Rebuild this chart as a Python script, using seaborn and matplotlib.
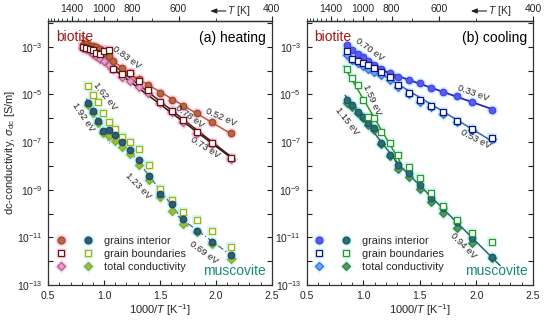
import numpy as np
import pandas as pd
import matplotlib
matplotlib.use("Agg")
import matplotlib.pyplot as plt
import seaborn as sns
from matplotlib.ticker import FixedLocator, FuncFormatter, NullLocator, MultipleLocator
from matplotlib.legend_handler import HandlerTuple
from matplotlib.lines import Line2D

sns.set_theme(style="ticks")
plt.rcParams['font.family'] = ['Liberation Sans', 'DejaVu Sans']
plt.rcParams['mathtext.fontset'] = 'custom'
plt.rcParams['mathtext.rm'] = 'Liberation Sans'
plt.rcParams['mathtext.it'] = 'Liberation Sans:italic'
plt.rcParams['mathtext.bf'] = 'Liberation Sans:bold'

# ---------------- data (x = 1000/T [1/K], values = log10 sigma [S/m]) -------------
# (a) heating
heat_bio_x = [0.81, 0.84, 0.87, 0.90, 0.93, 0.96, 1.00, 1.04, 1.08, 1.157, 1.23, 1.31,
              1.395, 1.50, 1.605, 1.705, 1.83, 1.965, 2.14]
heat_bio_gi = [-2.92, -2.88, -2.95, -2.98, -3.00, -3.10, -3.25, -3.40, -3.60, -3.91, -4.10, -4.35,
               -4.62, -4.94, -5.24, -5.50, -5.80, -6.16, -6.62]
heat_bio_gb = [-3.00, -3.05, -3.10, -3.15, -3.25, -3.30, -3.20, -3.14, -3.95, -4.15, -4.10, -4.45,
               -4.80, -5.30, -5.69, -6.09, -6.58, -7.04, -7.66]
heat_bio_tc = [-3.05, -3.10, -3.20, -3.30, -3.40, -3.50, -3.60, -3.75, -3.95, -4.26, -4.45, -4.70,
               -4.96, -5.35, -5.75, -6.15, -6.60, -7.08, -7.72]

heat_mus_x = [0.858, 0.90, 0.948, 0.99, 1.04, 1.10, 1.157, 1.23, 1.31, 1.40, 1.50, 1.605,
              1.705, 1.83, 1.965, 2.14]
heat_mus_gi = [-5.36, -5.69, -6.12, -6.54, -6.51, -6.70, -7.00, -7.35, -7.77, -8.44, -9.18, -9.59,
               -10.23, -10.72, -11.21, -11.73]
heat_mus_gb = [-4.65, -5.03, -5.32, -5.80, -6.16, -6.44, -6.79, -7.00, -7.28, -7.98, -8.96, -9.45,
               -9.95, -10.27, -10.72, -11.39]
heat_mus_tc = [-5.45, -5.80, -6.20, -6.60, -6.75, -6.95, -7.21, -7.52, -7.95, -8.60, -9.32, -9.88,
               -10.44, -10.79, -11.28, -11.91]

# (b) cooling
cool_x = [0.854, 0.90, 0.951, 1.0, 1.045, 1.098, 1.157, 1.237, 1.31, 1.40, 1.50, 1.60,
          1.704, 1.827, 1.965, 2.135]
cool_bio_gi = [-2.93, -3.12, -3.30, -3.42, -3.58, -3.75, -3.92, -4.12, -4.25, -4.40, -4.54, -4.72,
               -4.89, -5.06, -5.31, -5.66]
cool_bio_gb = [-3.20, -3.50, -3.62, -3.70, -3.78, -3.88, -4.05, -4.25, -4.60, -4.95, -5.22, -5.50,
               -5.75, -6.10, -6.45, -6.85]
cool_bio_tc = [-3.35, -3.55, -3.70, -3.82, -3.92, -4.05, -4.20, -4.38, -4.70, -5.00, -5.30, -5.55,
               -5.82, -6.15, -6.48, -6.88]
cool_mus_gi = [-5.24, -5.45, -5.73, -5.94, -6.22, -6.42, -7.05, -7.55, -7.96, -8.31, -8.80, -9.36,
               -9.78, -10.34, -11.04, -11.84]
cool_mus_gb = [-3.95, -4.30, -4.60, -5.24, -5.94, -6.00, -6.57, -7.06, -7.55, -8.04, -8.52, -9.15,
               -9.67, -10.27, -10.80, -11.18]
cool_mus_tc = [-5.35, -5.55, -5.80, -6.00, -6.30, -6.50, -7.10, -7.60, -8.14, -8.48, -8.97, -9.50,
               -9.99, -10.62, -11.22, -11.88]

legend_labels = ["grains interior", "grain boundaries", "total conductivity"]
top_major_T = [1400, 1000, 800, 600, 400]
top_minor_T = [2000, 1900, 1800, 1700, 1600, 1500, 1300, 1200, 1100, 900, 700, 500]

# ---------------- styles ----------------
S_CIRC, S_SQ, S_DIA = 22, 18, 16
HALO_F = 3.0
HALO_A = 0.35

fig = plt.figure(figsize=(5.5, 3.22), dpi=100)
axL = fig.add_axes([0.0878, 0.1149, 0.4062, 0.8214])
axR = fig.add_axes([0.5576, 0.1149, 0.4115, 0.8214])


def draw(ax, x, logy, marker, face, edge, halo, size, z=5, lw=0.9):
    df = pd.DataFrame({"x": np.asarray(x, float), "y": 10.0 ** np.asarray(logy, float)})
    sns.scatterplot(data=df, x="x", y="y", ax=ax, marker=marker, s=size * HALO_F,
                    color=halo, alpha=HALO_A, linewidth=0, zorder=1, legend=False)
    sns.scatterplot(data=df, x="x", y="y", ax=ax, marker=marker, s=size,
                    color=face, edgecolor=edge, linewidth=lw, zorder=z, legend=False)


def fitline(ax, x, logy, sel, xr, color, ls="-", lw=1.1):
    x = np.asarray(x, float)
    ly = np.asarray(logy, float)
    m = (x >= sel[0]) & (x <= sel[1])
    p = np.polyfit(x[m], ly[m], 1)
    xx = np.linspace(xr[0], xr[1], 50)
    ax.plot(xx, 10.0 ** np.polyval(p, xx), color=color, ls=ls, lw=lw, zorder=3)


# ---- colours
bio_h = dict(gi=("#b9673f", "#9a4a2a"), gb=("white", "#5c1a12"), tc=("#eb9ccc", "#b0608e"), halo="#ff86b4")
mus_h = dict(gi=("#2e5d78", "#244a60"), gb=("white", "#a5b300"), tc=("#9dbd3a", "#88a830"), halo="#7ff0f0")
bio_c = dict(gi=("#5a5af2", "#4444dd"), gb=("white", "#12127a"), tc=("#66aaf6", "#3c6ed6"), halo="#86dcff")
mus_c = dict(gi=("#2a6d78", "#205860"), gb=("white", "#2b9a2b"), tc=("#4f9a5c", "#3c8048"), halo="#86f2e2")

# ---------------- (a) heating ----------------
ax = axL
fitline(ax, heat_bio_x, heat_bio_gi, (0.9, 1.2), (0.80, 1.30), "#c8503a")
fitline(ax, heat_bio_x, heat_bio_gi, (1.15, 2.2), (1.15, 2.15), "#c8503a")
fitline(ax, heat_bio_x, heat_bio_gb, (0.8, 2.2), (0.80, 2.17), "#5c1a12")
fitline(ax, heat_bio_x, heat_bio_tc, (0.8, 2.2), (0.80, 2.17), "#2a1515")
fitline(ax, heat_mus_x, heat_mus_gi, (0.85, 1.0), (0.84, 1.05), "#4a6a8a", ls=(0, (5, 2, 1, 2)), lw=0.9)
fitline(ax, heat_mus_x, heat_mus_gi, (1.2, 1.71), (1.22, 1.75), "#4a6a8a", ls=(0, (5, 2, 1, 2)), lw=0.9)
fitline(ax, heat_mus_x, heat_mus_gi, (1.7, 2.2), (1.66, 2.2), "#4a6a8a", ls=(0, (5, 2, 1, 2)), lw=0.9)

draw(ax, heat_mus_x, heat_mus_gb, "s", *mus_h["gb"], mus_h["halo"], S_SQ, z=4)
draw(ax, heat_mus_x, heat_mus_tc, "D", *mus_h["tc"], mus_h["halo"], S_DIA, z=5)
draw(ax, heat_mus_x, heat_mus_gi, "o", *mus_h["gi"], mus_h["halo"], S_CIRC, z=6)
draw(ax, heat_bio_x, heat_bio_tc, "D", *bio_h["tc"], bio_h["halo"], S_DIA, z=5)
draw(ax, heat_bio_x, heat_bio_gi, "o", *bio_h["gi"], bio_h["halo"], S_CIRC, z=6)
draw(ax, heat_bio_x, heat_bio_gb, "s", *bio_h["gb"], bio_h["halo"], S_SQ, z=7)

# ---------------- (b) cooling ----------------
ax = axR
fitline(ax, cool_x, cool_bio_gi, (0.85, 1.24), (0.84, 1.30), "#2626d0", lw=1.3)
fitline(ax, cool_x, cool_bio_gi, (1.23, 2.2), (1.20, 2.15), "#2626d0", lw=1.3)
fitline(ax, cool_x, cool_bio_gb, (0.85, 2.2), (0.84, 2.16), "#3d5fc0")
fitline(ax, cool_x, cool_mus_gb, (0.85, 1.32), (0.83, 1.34), "#2b9a2b")
fitline(ax, cool_x, cool_mus_gi, (0.85, 1.32), (0.84, 1.33), "#1c6a70")
fitline(ax, cool_x, cool_mus_gi, (1.30, 2.2), (1.28, 2.21), "#1c6a70")

draw(ax, cool_x, cool_mus_tc, "D", *mus_c["tc"], mus_c["halo"], S_DIA, z=5)
draw(ax, cool_x, cool_mus_gi, "o", *mus_c["gi"], mus_c["halo"], S_CIRC, z=6)
draw(ax, cool_x, cool_mus_gb, "s", *mus_c["gb"], mus_c["halo"], S_SQ, z=7)
draw(ax, cool_x, cool_bio_tc, "D", *bio_c["tc"], bio_c["halo"], S_DIA, z=5)
draw(ax, cool_x, cool_bio_gi, "o", *bio_c["gi"], bio_c["halo"], S_CIRC, z=6)
draw(ax, cool_x, cool_bio_gb, "s", *bio_c["gb"], bio_c["halo"], S_SQ, z=7)


# ---------------- axes formatting ----------------
def yfmt(v, pos):
    e = int(round(np.log10(v)))
    return r"$\mathregular{10^{%d}}$" % e if e % 2 else ""


def inv(v):
    v = np.asarray(v, float)
    with np.errstate(divide="ignore", invalid="ignore"):
        return 1000.0 / v


for ax, tag in ((axL, "(a) heating"), (axR, "(b) cooling")):
    ax.set_yscale("log")
    ax.set_xlim(0.5, 2.5)
    ax.set_ylim(1e-13, 10 ** -1.9)
    ax.xaxis.set_major_locator(MultipleLocator(0.5))
    ax.xaxis.set_minor_locator(MultipleLocator(0.1))
    ax.yaxis.set_major_locator(FixedLocator([10.0 ** e for e in range(-13, -1)]))
    ax.yaxis.set_minor_locator(NullLocator())
    ax.yaxis.set_major_formatter(FuncFormatter(yfmt))
    ax.tick_params(which="both", direction="in", top=False, right=True, labelsize=7.5,
                   color="#222222")
    ax.tick_params(axis="x", pad=4)
    ax.tick_params(axis="y", pad=4)
    ax.tick_params(which="major", length=3.5, width=0.8)
    ax.tick_params(which="minor", length=2, width=0.6)
    for sp in ax.spines.values():
        sp.set_linewidth(0.9)
        sp.set_color("#333333")
    ax.set_xlabel(r"1000/$T$ [K$^{-1}$]", fontsize=8, labelpad=1)
    ax.set_ylabel("")
    sec = ax.secondary_xaxis("top", functions=(inv, inv))
    sec.xaxis.set_major_locator(FixedLocator(top_major_T))
    sec.xaxis.set_minor_locator(FixedLocator(top_minor_T))
    sec.xaxis.set_major_formatter(FuncFormatter(lambda v, p: "%d" % round(v)))
    sec.tick_params(which="both", direction="out", labelsize=7.5, pad=1, color="#222222")
    sec.tick_params(which="major", length=3.5, width=0.8)
    sec.tick_params(which="minor", length=2, width=0.6)
    sec.spines["top"].set_linewidth(0.9)
    ax.annotate("", xy=(0.725, 1.036), xytext=(0.795, 1.036), xycoords="axes fraction",
                arrowprops=dict(arrowstyle="-|>,head_length=0.3,head_width=0.12", lw=0.8,
                                color="#222222", shrinkA=0, shrinkB=0))
    ax.text(0.80, 1.036, r"$T$ [K]", transform=ax.transAxes, fontsize=7.5, va="center", ha="left")
    ax.text(0.035, 0.965, "biotite", transform=ax.transAxes, fontsize=10, color="#a31818",
            va="top", ha="left")
    ax.text(0.975, 0.96, tag, transform=ax.transAxes, fontsize=10, color="black", va="top", ha="right")
    ax.text(0.975, 0.025, "muscovite", transform=ax.transAxes, fontsize=10, color="#1a8a78",
            va="bottom", ha="right")

axL.set_ylabel(r"dc-conductivity, $\sigma_{\mathregular{dc}}$ [S/m]", fontsize=8, labelpad=0)

# ---------------- activation energy labels ----------------
def elabel(ax, x, ly, txt, rot):
    ax.text(x, 10 ** ly, txt, fontsize=6.8, rotation=rot, rotation_mode="anchor",
            ha="center", va="center", color="#222222", zorder=8)

elabel(axL, 1.205, -3.47, "0.83 eV", -36)
elabel(axL, 1.008, -5.07, "1.62 eV", -52)
elabel(axL, 0.811, -5.95, "1.92 eV", -56)
elabel(axL, 1.769, -5.95, "0.78 eV", -36)
elabel(axL, 2.046, -5.95, "0.52 eV", -24)
elabel(axL, 1.903, -7.25, "0.73 eV", -32)
elabel(axL, 1.303, -8.85, "1.23 eV", -46)
elabel(axL, 1.894, -11.66, "0.69 eV", -36)

elabel(axR, 1.06, -3.10, "0.70 eV", -36)
elabel(axR, 1.972, -4.94, "0.33 eV", -20)
elabel(axR, 1.989, -6.87, "0.53 eV", -27)
elabel(axR, 1.078, -5.24, "1.59 eV", -66)
elabel(axR, 0.857, -6.12, "1.15 eV", -52)
elabel(axR, 1.884, -11.37, "0.94 eV", -45)

# ---------------- legends ----------------
def mk(marker, face, edge, ms):
    return Line2D([], [], marker=marker, ls="", mfc=face, mec=edge, ms=ms, mew=0.9)


def halo(marker, col, ms):
    return Line2D([], [], marker=marker, ls="", mfc=col, mec="none", ms=ms, alpha=HALO_A)


def make_legend(ax, bio, mus):
    hmap = {}
    handles = []
    for key, m, ms in (("gi", "o", 5.0), ("gb", "s", 4.6), ("tc", "D", 4.2)):
        b = (halo(m, bio["halo"], ms * 1.7), mk(m, *bio[key], ms))
        u = (halo(m, mus["halo"], ms * 1.7), mk(m, *mus[key], ms))
        outer = (b, u)
        hmap[b] = HandlerTuple(ndivide=1, pad=0)
        hmap[u] = HandlerTuple(ndivide=1, pad=0)
        hmap[outer] = HandlerTuple(ndivide=None, pad=1.6)
        handles.append(outer)
    ax.legend(handles, legend_labels, handler_map=hmap, loc="lower left", frameon=False,
              fontsize=7.8, handlelength=3.4, handletextpad=1.0, labelspacing=0.28,
              borderaxespad=0.3, bbox_to_anchor=(0.0, 0.02))


make_legend(axL, bio_h, mus_h)
make_legend(axR, bio_c, mus_c)

fig.savefig("out.png", dpi=100)
